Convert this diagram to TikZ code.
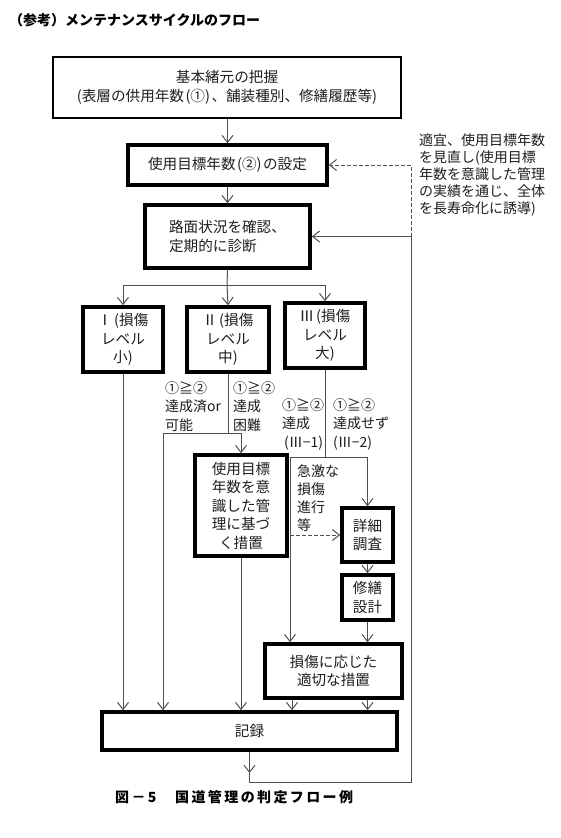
\documentclass[tikz,border=0pt]{standalone}
\usepackage{fontspec}
\setmainfont{Noto Sans CJK JP}
\newfontfamily\capfont{Noto Sans CJK JP}[LetterSpace=17]
\usetikzlibrary{arrows.meta}
\definecolor{ln}{RGB}{80,80,80}
\definecolor{tx}{RGB}{30,30,30}
\tikzset{
  base/.style={inner sep=0pt, align=center, text=tx, font=\fontsize{14.6}{18.5}\selectfont},
  thinbox/.style={base, draw=black, line width=1.3pt},
  thickbox/.style={base, draw=black, line width=3.6pt},
  lbl/.style={inner sep=0pt, align=left, text=tx, anchor=north west, font=\fontsize{14}{18.5}\selectfont},
  conn/.style={draw=ln, line width=1pt},
  arr/.style={conn, -{Straight Barb[length=7pt,width=11pt,line width=1pt]}},
  dsh/.style={dash pattern=on 3.5pt off 2.5pt},
}
\begin{document}
\begin{tikzpicture}[x=1pt,y=-1pt]
\path[use as bounding box] (0,0) rectangle (561,838);

% title
\node[inner sep=0pt, anchor=west, font=\fontsize{14}{16}\selectfont\bfseries] (title) at (9,20) {（参考）メンテナンスサイクルのフロー};

% boxes
\node[thinbox, minimum width=348pt, minimum height=61pt] (b1) at (227,87.5)
  {基本緒元の把握\\(表層の供用年数\kern1.5pt(①)\kern1.5pt、舗装種別、修繕履歴等)};
\node[thickbox, minimum width=199pt, minimum height=40pt] (b2) at (227.5,165)
  {使用目標年数\kern1.5pt(②)\kern1.5ptの設定};
\node[thickbox, minimum width=165pt, minimum height=63pt, align=left] (b3) at (227.5,236.5)
  {路面状況を確認、\\定期的に診断};

\node[thickbox, minimum width=80pt, minimum height=65pt] (bI) at (123,339.5)
  {Ⅰ\kern2pt(損傷\\レベル\\小)};
\node[thickbox, minimum width=82pt, minimum height=65pt] (bII) at (228,339.5)
  {Ⅱ\kern2pt(損傷\\レベル\\中)};
\node[thickbox, minimum width=80pt, minimum height=65pt] (bIII) at (325,335.5)
  {Ⅲ\kern2pt(損傷\\レベル\\大)};

\node[thickbox, minimum width=92pt, minimum height=101pt] (mg) at (241,505.5)
  {使用目標\\年数を意\\識した管\\理に基づ\\く措置};
\node[thickbox, minimum width=51pt, minimum height=54pt] (det) at (367.5,535)
  {詳細\\調査};
\node[thickbox, minimum width=51pt, minimum height=45pt] (rep) at (367.5,597.5)
  {修繕\\設計};
\node[thickbox, minimum width=137pt, minimum height=54pt] (dmg) at (333.5,671)
  {損傷に応じた\\適切な措置};
\node[thickbox, minimum width=295pt, minimum height=38pt] (rec) at (249.5,731)
  {記録};

% note
\node[lbl, font=\fontsize{14}{17}\selectfont] (note) at (419,133)
  {適宜、使用目標年数\\を見直し(使用目標\\年数を意識した管理\\の実績を通じ、全体\\を長寿命化に誘導)};

% labels
\node[lbl] (l1) at (165,381) {①≧②\\達成済or\\可能};
\node[lbl] (l2) at (233,381) {①≧②\\達成\\困難};
\node[lbl] (l3) at (282,398) {①≧②\\達成\\\hspace{2pt}(Ⅲ−1)};
\node[lbl] (l4) at (333,398) {①≧②\\達成せず\\(Ⅲ−2)};
\node[lbl, font=\fontsize{14}{18}\selectfont] (l5) at (297,464) {急激な\\損傷\\進行\\等};

% caption
\node[inner sep=0pt, anchor=west, font=\fontsize{14}{16}\selectfont\bfseries\capfont] (cap) at (115,797)
  {図－5　国道管理の判定フロー例};

% coordinates
\coordinate (j1) at (227,285);
\coordinate (j1L) at (123,285);
\coordinate (j1R) at (325,285);
\coordinate (j2) at (228,433);
\coordinate (j2L) at (163,433);
\coordinate (j2R) at (241,433);
\coordinate (j3) at (325,457);
\coordinate (j3L) at (290,457);
\coordinate (j3R) at (367.5,457);
\coordinate (c0) at (249.5,773);
\coordinate (c1) at (249.5,782);
\coordinate (c2) at (411,782);

% connectors
\draw[arr] (b1.south -| b2.north) -- (b2.north);
\draw[arr] (b2.south) -- (b3.north);
\draw[conn] (b3.south) -- (j1);
\draw[conn] (j1L) -- (j1R);
\draw[arr] (j1L) -- (bI.north);
\draw[arr] (j1) -- (bII.north);
\draw[arr] (j1R) -- (bIII.north);

\draw[arr] (bI.south) -- (bI.south |- rec.north);

\draw[conn] (bII.south) -- (j2);
\draw[conn] (j2L) -- (j2R);
\draw[arr] (j2L) -- (j2L |- rec.north);
\draw[arr] (j2R) -- (mg.north);
\draw[arr] (mg.south) -- (mg.south |- rec.north);

\draw[conn] (bIII.south) -- (j3);
\draw[conn] (j3L) -- (j3R);
\draw[arr] (j3L) -- (j3L |- dmg.north);
\draw[arr] (j3R) -- (det.north);
\draw[arr, dsh] (j3L |- det.west) -- (det.west);
\draw[arr] (det.south) -- (rep.north);
\draw[arr] (rep.south) -- (rep.south |- dmg.north);

\draw[arr] (dmg.south -| j3L) ++(2,0) coordinate (d1) -- (d1 |- rec.north);
\draw[arr] (dmg.south -| rep.south) -- (rep.south |- rec.north);

\draw[arr] (rec.south) -- (c0);
\draw[arr] (c0) -- (c1) -- (c2) -- (c2 |- b3.east) -- (b3.east);
\draw[arr, dsh] (c2 |- b3.east) -- (c2 |- b2.east) -- (b2.east);
\end{tikzpicture}
\end{document}
